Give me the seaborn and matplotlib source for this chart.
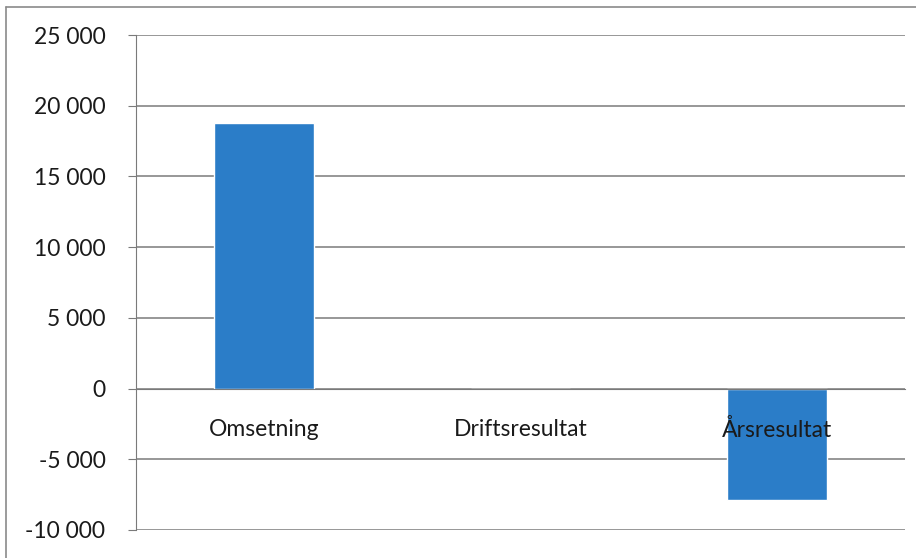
import matplotlib
matplotlib.use("Agg")
import matplotlib.pyplot as plt
from matplotlib.lines import Line2D
from matplotlib.ticker import FuncFormatter, FixedLocator
import seaborn as sns
import pandas as pd

# Data
categories = ["Omsetning", "Driftsresultat", "Årsresultat"]
values = [18750, 0, -7850]
yticks = list(range(-10000, 25001, 5000))

df = pd.DataFrame({"Kategori": categories, "Verdi": values})

sns.set_style("white")
plt.rcParams["font.family"] = ["Lato", "DejaVu Sans"]

fig = plt.figure(figsize=(9.16, 5.58), dpi=100)
ax = fig.add_axes([136 / 916, 28 / 558, (905 - 136) / 916, (523 - 28) / 558])

# gridlines under the bars, axis labels over them
for t in yticks:
    ax.axhline(t, color="#7a7a7a", linewidth=1.1, zorder=1)

sns.barplot(data=df, x="Kategori", y="Verdi", color="#2B7DC8", width=0.39,
            saturation=1, ax=ax, zorder=2)

ax.set_ylim(-10000, 25000)
ax.set_xlim(-0.5, 2.5)
ax.set_yticks(yticks)
ax.yaxis.set_major_formatter(FuncFormatter(lambda v, p: f"{int(v):,}".replace(",", " ")))
ax.set_axisbelow(False)

# category axis sits on zero
for s in ["top", "right"]:
    ax.spines[s].set_visible(False)
ax.spines["bottom"].set_position(("data", 0))
ax.spines["bottom"].set_color("#7a7a7a")
ax.spines["left"].set_color("#7a7a7a")
ax.xaxis.set_minor_locator(FixedLocator([0.5, 1.5, 2.5]))
ax.tick_params(axis="x", which="major", length=0, pad=22, labelsize=16.5, colors="#1a1a1a")
ax.tick_params(axis="x", which="minor", length=6, color="#7a7a7a", direction="out")
ax.tick_params(axis="y", length=6, pad=16, color="#7a7a7a", labelsize=16.5, colors="#1a1a1a", left=True)
ax.set_xlabel("")
ax.set_ylabel("")

# chart frame (scanned border)
fig.add_artist(Line2D([6 / 916, 6 / 916], [0, 1 - 7 / 558], color="#8a8a8a", lw=1.2))
fig.add_artist(Line2D([6 / 916, 1], [1 - 7 / 558, 1 - 7 / 558], color="#8a8a8a", lw=1.2))

fig.savefig("out.png", dpi=100)
